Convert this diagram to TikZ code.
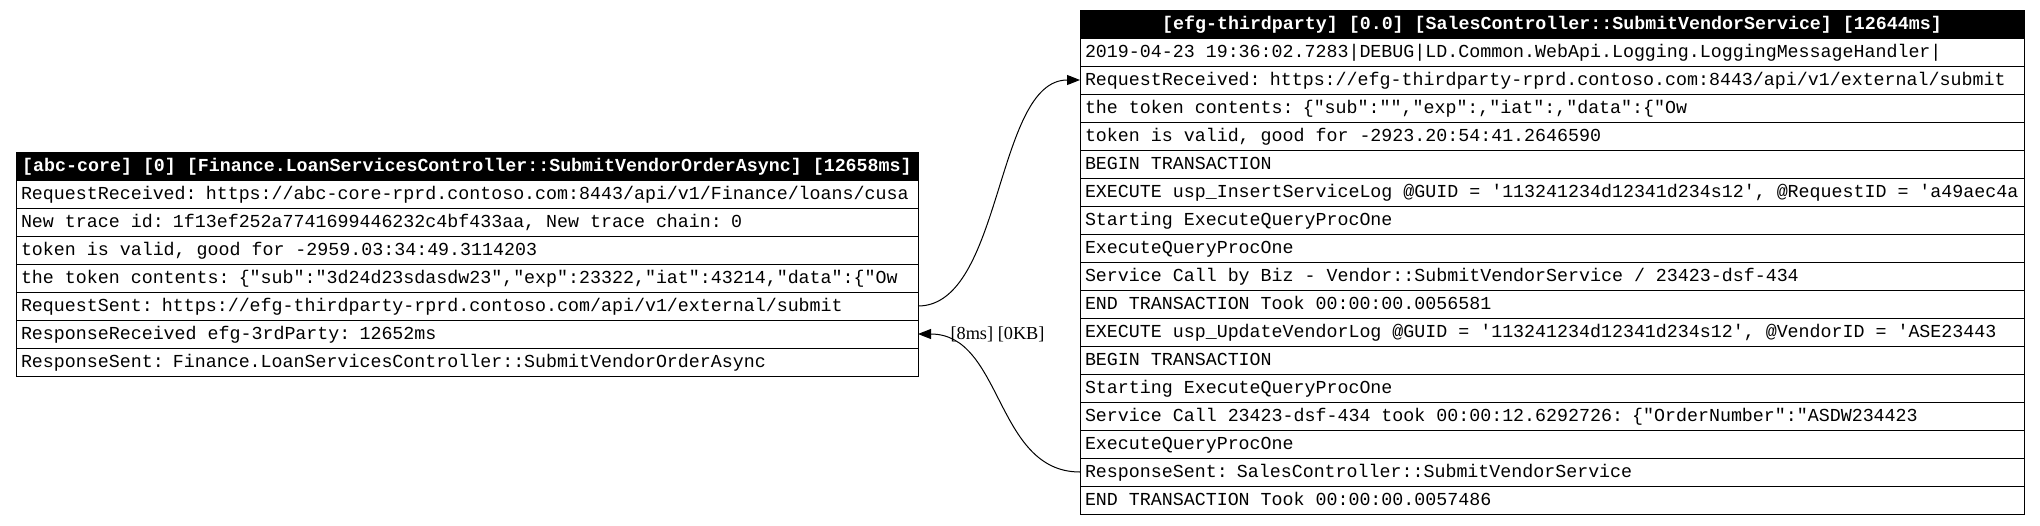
\documentclass[tikz,border=0pt]{standalone}
\usepackage{fontspec}
\setmainfont{Liberation Serif}
\setmonofont{Liberation Mono}
\usetikzlibrary{arrows.meta,positioning}

\begin{document}
\begin{tikzpicture}[x=1pt,y=-1pt,line width=1pt,
  cell/.style={draw,anchor=north west,text width=#1,align=left,minimum height=28pt,
    inner xsep=5pt,inner ysep=0pt,outer sep=0pt,text height=14pt,text depth=3.4pt,
    font=\ttfamily\fontsize{18.3}{22}\selectfont,
    execute at begin node={\spaceskip=0.6em\relax}},
  head/.style={cell=#1,fill=black,text=white,align=center,
    font=\ttfamily\bfseries\fontsize{18.3}{22}\selectfont},
  call/.style={-{Triangle[length=13pt,width=10pt]}},
  lbl/.style={inner sep=0pt,font=\fontsize{18.3}{22}\selectfont}]
\useasboundingbox (0,0) rectangle (2040,525);

% abc-core
\node[head=892pt] (core0) at (16,152) {[abc-core] [0] [Finance.LoanServicesController::SubmitVendorOrderAsync] [12658ms]};
\foreach \txt [count=\i from 1,remember=\i as \j (initially 0)] in {
  {RequestReceived: https://abc-core-rprd.contoso.com:8443/api/v1/Finance/loans/cusa},
  {New trace id: 1f13ef252a7741699446232c4bf433aa, New trace chain: 0},
  {token is valid, good for -2959.03:34:49.3114203},
  {the token contents: \{"sub":"3d24d23sdasdw23","exp":23322,"iat":43214,"data":\{"Ow},
  {RequestSent: https://efg-thirdparty-rprd.contoso.com/api/v1/external/submit},
  {ResponseReceived efg-3rdParty: 12652ms},
  {ResponseSent: Finance.LoanServicesController::SubmitVendorOrderAsync}}
  \node[cell=892pt,below=0pt of core\j] (core\i) {\txt};

% efg-thirdparty
\node[head=934pt] (party0) at (1080,10) {[efg-thirdparty] [0.0] [SalesController::SubmitVendorService] [12644ms]};
\foreach \txt [count=\i from 1,remember=\i as \j (initially 0)] in {
  {2019-04-23 19:36:02.7283|DEBUG|LD.Common.WebApi.Logging.LoggingMessageHandler|},
  {RequestReceived: https://efg-thirdparty-rprd.contoso.com:8443/api/v1/external/submit},
  {the token contents: \{"sub":"","exp":,"iat":,"data":\{"Ow},
  {token is valid, good for -2923.20:54:41.2646590},
  {BEGIN TRANSACTION},
  {EXECUTE usp\_InsertServiceLog @GUID = '113241234d12341d234s12', @RequestID = 'a49aec4a},
  {Starting ExecuteQueryProcOne},
  {ExecuteQueryProcOne},
  {Service Call by Biz - Vendor::SubmitVendorService / 23423-dsf-434},
  {END TRANSACTION Took 00:00:00.0056581},
  {EXECUTE usp\_UpdateVendorLog @GUID = '113241234d12341d234s12', @VendorID = 'ASE23443},
  {BEGIN TRANSACTION},
  {Starting ExecuteQueryProcOne},
  {Service Call 23423-dsf-434 took 00:00:12.6292726: \{"OrderNumber":"ASDW234423},
  {ExecuteQueryProcOne},
  {ResponseSent: SalesController::SubmitVendorService},
  {END TRANSACTION Took 00:00:00.0057486}}
  \node[cell=934pt,below=0pt of party\j] (party\i) {\txt};

% calls
\draw[call] (core5.east) .. controls +(85,0) and +(-85,0) .. (party2.west);
\draw[call] (party16.west) .. controls +(-85,0) and +(85,0) .. (core6.east);
\node[lbl,right=32pt of core6.east] (took) {[8ms] [0KB]};
\end{tikzpicture}
\end{document}
